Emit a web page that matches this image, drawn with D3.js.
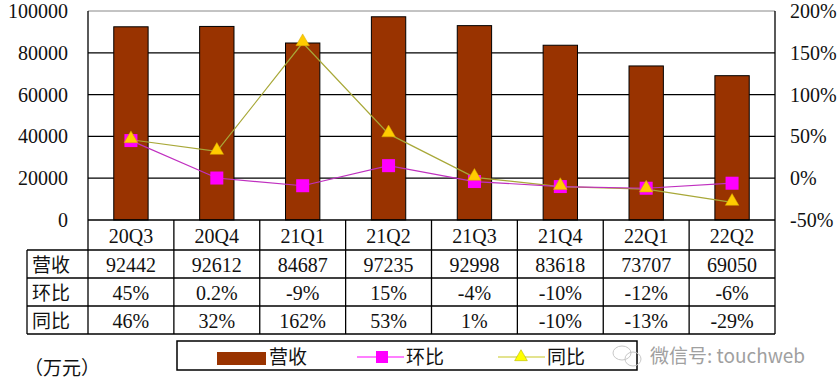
<!DOCTYPE html>
<html>
<head>
<meta charset="utf-8">
<script src="https://cdn.jsdelivr.net/npm/d3@7"></script>
<style>
  body { margin: 0; background: #fff; }
  .num { font-family: "Liberation Serif", serif; font-size: 20px; fill: #111; }
  .cjk { font-family: "Noto Sans CJK SC", sans-serif; font-size: 19px; fill: #111; }
  .axis .domain { display: none; }
</style>
</head>
<body>
<div id="chart"></div>
<script>
// quarterly revenue (万元) and growth rates (%)
var quarters = ["20Q3", "20Q4", "21Q1", "21Q2", "21Q3", "21Q4", "22Q1", "22Q2"];
var revenue = [92442, 92612, 84687, 97235, 92998, 83618, 73707, 69050];
var qoq = [45, 0.2, -9, 15, -4, -10, -12, -6];
var yoy = [46, 32, 162, 53, 1, -10, -13, -29];
var leftTicks = [0, 20000, 40000, 60000, 80000, 100000];
var rightTicks = [-50, 0, 50, 100, 150, 200];
var rowNames = ["营收", "环比", "同比"];

var W = 838, H = 392;
var plot = {left: 88, right: 775, top: 11, bottom: 220};
var rows = [220, 250, 278, 306, 334];   // table row borders
var tableLeft = 27;

var svg = d3.select('#chart').append('svg')
  .attr('width', W)
  .attr('height', H);

var x = d3.scaleBand()
  .domain(quarters)
  .range([plot.left, plot.right])
  .paddingInner(0.6)
  .paddingOuter(0.3);
var step = x.step();

var yL = d3.scaleLinear().domain([0, 100000]).range([plot.bottom, plot.top]);
var yR = d3.scaleLinear().domain([-50, 200]).range([plot.bottom, plot.top]);

// gridlines
svg.append('g').selectAll('line')
  .data(leftTicks.slice(1, -1))
  .enter().append('line')
  .attr('x1', plot.left).attr('x2', plot.right)
  .attr('y1', function(d) { return yL(d); })
  .attr('y2', function(d) { return yL(d); })
  .attr('stroke', '#000').attr('stroke-width', 1.3);

// top border (grey)
svg.append('line')
  .attr('x1', plot.left).attr('x2', plot.right)
  .attr('y1', plot.top).attr('y2', plot.top)
  .attr('stroke', '#888').attr('stroke-width', 1);

// bars
svg.append('g').selectAll('rect')
  .data(revenue)
  .enter().append('rect')
  .attr('x', function(d, i) { return x(quarters[i]); })
  .attr('y', function(d) { return yL(d); })
  .attr('width', x.bandwidth())
  .attr('height', function(d) { return yL(0) - yL(d); })
  .attr('fill', '#993300')
  .attr('stroke', '#000')
  .attr('stroke-width', 1);

// axes
svg.append('g')
  .attr('class', 'axis num')
  .attr('transform', 'translate(' + plot.left + ',0)')
  .call(d3.axisLeft(yL).tickValues(leftTicks).tickSize(0).tickPadding(20).tickFormat(d3.format('d')))
  .selectAll('text').attr('class', 'num').attr('fill', '#111');

svg.append('g')
  .attr('class', 'axis num')
  .attr('transform', 'translate(' + plot.right + ',0)')
  .call(d3.axisRight(yR).tickValues(rightTicks).tickSize(0).tickPadding(15)
    .tickFormat(function(d) { return d + '%'; }))
  .selectAll('text').attr('class', 'num').attr('fill', '#111');

// lines
var cx = function(d, i) { return x(quarters[i]) + x.bandwidth() / 2; };

var qoqLine = d3.line().x(cx).y(function(d) { return yR(d); });
var yoyLine = d3.line().x(cx).y(function(d) { return yR(d); });

svg.append('path')
  .datum(yoy)
  .attr('fill', 'none')
  .attr('stroke', '#A8A838')
  .attr('stroke-width', 1.2)
  .attr('d', yoyLine);

svg.append('path')
  .datum(qoq)
  .attr('fill', 'none')
  .attr('stroke', '#C030C0')
  .attr('stroke-width', 1.2)
  .attr('d', qoqLine);

var sq = 13;
svg.append('g').selectAll('rect')
  .data(qoq)
  .enter().append('rect')
  .attr('x', function(d, i) { return cx(d, i) - sq / 2; })
  .attr('y', function(d) { return yR(d) - sq / 2; })
  .attr('width', sq).attr('height', sq)
  .attr('fill', '#FF00FF');

var tri = d3.symbol().type(d3.symbolTriangle).size(80);
svg.append('g').selectAll('path')
  .data(yoy)
  .enter().append('path')
  .attr('transform', function(d, i) { return 'translate(' + cx(d, i) + ',' + (yR(d) - 1) + ')'; })
  .attr('d', tri)
  .attr('fill', '#FFCC00')
  .attr('stroke', '#D4A800')
  .attr('stroke-width', 0.5);

// data table
var table = svg.append('g');
rows.forEach(function(r, i) {
  table.append('line')
    .attr('x1', i === 0 ? plot.left : tableLeft).attr('x2', plot.right)
    .attr('y1', r).attr('y2', r)
    .attr('stroke', '#000').attr('stroke-width', 1.3);
});
d3.range(quarters.length + 1).forEach(function(i) {
  var xx = plot.left + i * step;
  table.append('line')
    .attr('x1', xx).attr('x2', xx)
    .attr('y1', i === 0 || i === quarters.length ? plot.top : rows[0]).attr('y2', rows[4])
    .attr('stroke', '#000').attr('stroke-width', 1.3);
});
table.append('line')
  .attr('x1', tableLeft).attr('x2', tableLeft)
  .attr('y1', rows[1]).attr('y2', rows[4])
  .attr('stroke', '#000').attr('stroke-width', 1.3);

table.selectAll('.qlabel')
  .data(quarters)
  .enter().append('text')
  .attr('class', 'num')
  .attr('x', function(d) { return x(d) + x.bandwidth() / 2; })
  .attr('y', (rows[0] + rows[1]) / 2 + 1)
  .attr('dy', '0.35em')
  .attr('text-anchor', 'middle')
  .text(function(d) { return d; });

var rowData = [
  revenue.map(function(d) { return String(d); }),
  qoq.map(function(d) { return d + '%'; }),
  yoy.map(function(d) { return d + '%'; })
];
rowData.forEach(function(vals, r) {
  var yc = (rows[r + 1] + rows[r + 2]) / 2 + 1;
  table.append('text')
    .attr('class', 'cjk')
    .attr('x', 32)
    .attr('y', yc)
    .attr('dy', '0.35em')
    .text(rowNames[r]);
  table.selectAll('.r' + r)
    .data(vals)
    .enter().append('text')
    .attr('class', 'num')
    .attr('x', function(d, i) { return x(quarters[i]) + x.bandwidth() / 2; })
    .attr('y', yc)
    .attr('dy', '0.35em')
    .attr('text-anchor', 'middle')
    .text(function(d) { return d; });
});

// unit
svg.append('text')
  .attr('class', 'cjk')
  .attr('x', 24).attr('y', 368)
  .attr('dy', '0.35em')
  .text('（万元）');

// legend
var lg = svg.append('g');
lg.append('rect')
  .attr('x', 177).attr('y', 341)
  .attr('width', 460).attr('height', 29)
  .attr('fill', 'none')
  .attr('stroke', '#000').attr('stroke-width', 1.5);

lg.append('rect')
  .attr('x', 217).attr('y', 352).attr('width', 49).attr('height', 13)
  .attr('fill', '#993300');
lg.append('text').attr('class', 'cjk')
  .attr('x', 269).attr('y', 357).attr('dy', '0.35em').text(rowNames[0]);

lg.append('line')
  .attr('x1', 357).attr('x2', 404).attr('y1', 357).attr('y2', 357)
  .attr('stroke', '#FF00FF').attr('stroke-width', 1.2);
lg.append('rect')
  .attr('x', 376).attr('y', 351).attr('width', 12).attr('height', 12)
  .attr('fill', '#FF00FF');
lg.append('text').attr('class', 'cjk')
  .attr('x', 406).attr('y', 357).attr('dy', '0.35em').text(rowNames[1]);

lg.append('line')
  .attr('x1', 498).attr('x2', 545).attr('y1', 357).attr('y2', 357)
  .attr('stroke', '#C8C820').attr('stroke-width', 1.2);
lg.append('path')
  .attr('transform', 'translate(521,357)')
  .attr('d', d3.symbol().type(d3.symbolTriangle).size(70))
  .attr('fill', '#FFFF00')
  .attr('stroke', '#B8B800')
  .attr('stroke-width', 0.6);
lg.append('text').attr('class', 'cjk')
  .attr('x', 547).attr('y', 357).attr('dy', '0.35em').text(rowNames[2]);

// watermark
var wm = svg.append('g').attr('fill', 'none').attr('stroke', '#c8c8c8').attr('stroke-width', 1);
wm.append('ellipse').attr('cx', 622).attr('cy', 353).attr('rx', 9).attr('ry', 7);
wm.append('ellipse').attr('cx', 633).attr('cy', 359).attr('rx', 8).attr('ry', 7);
svg.append('text')
  .attr('x', 650).attr('y', 356)
  .attr('dy', '0.35em')
  .attr('font-family', '"Noto Sans CJK SC", sans-serif')
  .attr('font-size', 19)
  .attr('fill', '#a0a0a0')
  .text('微信号: touchweb');
</script>
</body>
</html>
